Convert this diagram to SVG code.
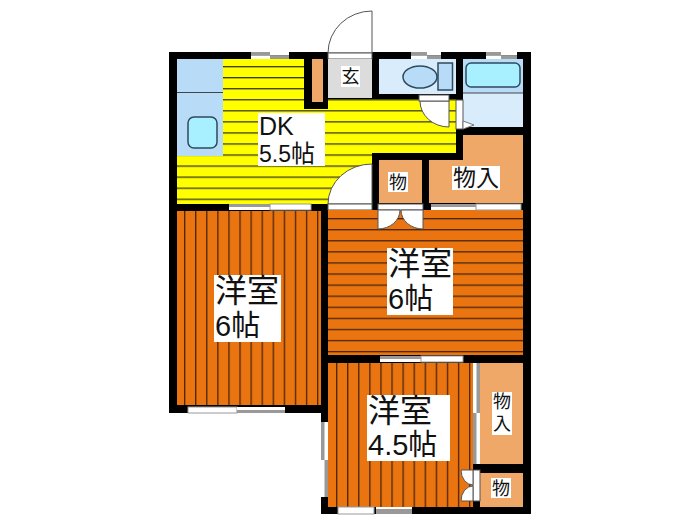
<svg xmlns="http://www.w3.org/2000/svg" width="700" height="525" viewBox="0 0 700 525">
<style>
.lbl{fill:#fff}
.t{font-family:"Noto Sans CJK JP","Liberation Sans",sans-serif;fill:#111}
.a{font-family:"Liberation Sans","Noto Sans CJK JP",sans-serif;fill:#111}
.wall{fill:#000}
.store{fill:#f0a868}
.g{fill:#999}
.w{fill:#fff}
.door{fill:#fff;stroke:#555;stroke-width:1}
.ln{stroke:#444;stroke-width:1;fill:none}
</style>
<defs>
<pattern id="py" patternUnits="userSpaceOnUse" x="0" y="66" width="20" height="11.05"><rect width="20" height="11.05" fill="#ffff00"/><rect width="20" height="1.3" fill="#3c3a10"/></pattern>
<pattern id="ph" patternUnits="userSpaceOnUse" x="0" y="218" width="20" height="11.08"><rect width="20" height="11.08" fill="#ea7510"/><rect width="20" height="1.3" fill="#4a2408"/></pattern>
<pattern id="pv1" patternUnits="userSpaceOnUse" x="184" y="0" width="11.08" height="20"><rect width="11.08" height="20" fill="#ea7510"/><rect width="1.3" height="20" fill="#4a2408"/></pattern>
<pattern id="pv2" patternUnits="userSpaceOnUse" x="336" y="0" width="11.08" height="20"><rect width="11.08" height="20" fill="#ea7510"/><rect width="1.3" height="20" fill="#4a2408"/></pattern>
</defs>
<rect width="700" height="525" fill="#fff"/>
<polygon id="walls" class="wall" points="169,52 531,52 531,514 321,514 321,413 169,413"/>

<g id="entry">
<path class="door" d="M328 53A44 42 0 0 1 372 11V53Z"/>
<rect x="328" y="53" width="44" height="6" class="door"/>
<rect x="328" y="59" width="44" height="39" fill="#dcdcdc"/>
<rect x="341" y="66" width="19" height="21" class="lbl"/>
<text class="t" x="350.500" y="83" font-size="18" text-anchor="middle">玄</text>
</g>

<g id="dk">
<polygon fill="url(#py)" points="177,59 304,59 304,109 328,109 328,99 456,99 456,153 372,153 372,204 177,204"/>
<rect x="177" y="59" width="46" height="97" fill="#b8dcf8"/>
<line class="ln" x1="177" y1="92.500" x2="223" y2="92.500"/>
<rect x="188" y="117" width="29" height="31" rx="6" fill="#a8f0ff" stroke="#2c4a5c" stroke-width="1.500"/>
<rect x="312" y="59" width="11" height="43" class="store"/>
<rect x="258" y="113" width="67" height="53" class="lbl"/>
<text class="a" x="259" y="135" font-size="25">DK</text>
<text class="a" x="259" y="162" font-size="23">5.5<tspan class="t" font-size="24">帖</tspan></text>
<path class="door" d="M328 204A44 40 0 0 1 372 164V204Z"/>
<rect x="328" y="204" width="44" height="6" class="door"/>
</g>

<g id="toilet">
<rect x="379" y="59" width="77" height="35" fill="#d8ecfc"/>
<ellipse cx="420" cy="77" rx="17" ry="11" fill="#b8dcf8" stroke="#2c4a5c" stroke-width="1.500"/>
<rect x="438" y="63" width="14.500" height="27" fill="#b8dcf8" stroke="#2c4a5c" stroke-width="1.500"/>
<path class="door" d="M420 101A29 26 0 0 0 449 127V101Z"/>
<rect x="419" y="95" width="30" height="6" class="door"/>
</g>

<g id="bath">
<rect x="463" y="59" width="60" height="68" fill="#d8ecfc"/>
<rect x="463" y="59" width="60" height="34" fill="#b8dcf8"/>
<line class="ln" x1="463" y1="93" x2="523" y2="93"/>
<rect x="466" y="63" width="54" height="24" rx="5" fill="#a8f0ff" stroke="#2c4a5c" stroke-width="1.500"/>
<rect x="456" y="100" width="7" height="29" class="door"/>
<path d="M463 121L474 125L463 129Z" fill="#fff" stroke="#777"/>
</g>

<g id="closet-1">
<polygon class="store" points="463,135 523,135 523,203 429,203 429,160 463,160"/>
<rect x="452" y="166" width="48" height="24" class="lbl"/>
<text class="t" x="476" y="186" font-size="23" text-anchor="middle">物入</text>
</g>

<g id="closet-2">
<rect x="379" y="160" width="43" height="43" class="store"/>
<rect x="388" y="172" width="20" height="20" class="lbl"/>
<text class="t" x="398" y="189" font-size="18" text-anchor="middle">物</text>
</g>

<g id="room-left">
<rect x="177" y="211" width="144" height="194" fill="url(#pv1)"/>
<rect x="214" y="275" width="67" height="67" class="lbl"/>
<text class="t" x="215" y="302" font-size="32">洋室</text>
<text class="a" x="215" y="336" font-size="29">6<tspan class="t" font-size="29">帖</tspan></text>
</g>

<g id="room-right">
<rect x="328" y="210" width="195" height="145" fill="url(#ph)"/>
<rect x="387" y="248" width="66" height="67" class="lbl"/>
<text class="t" x="388" y="275" font-size="32">洋室</text>
<text class="a" x="388" y="309" font-size="29">6<tspan class="t" font-size="29">帖</tspan></text>
<rect x="378" y="204" width="45" height="6" class="door"/>
<path class="door" d="M378 210V229A22 19 0 0 0 400 210Z"/>
<path class="door" d="M423 210V229A22 19 0 0 1 401 210Z"/>
</g>

<g id="room-small">
<rect x="328" y="363" width="145" height="144" fill="url(#pv2)"/>
<rect x="367" y="395" width="83" height="66" class="lbl"/>
<text class="t" x="368" y="422" font-size="32">洋室</text>
<text class="a" x="368" y="455" font-size="29">4.5<tspan class="t" font-size="29">帖</tspan></text>
</g>

<g id="closet-3">
<rect x="480" y="363" width="43" height="101" class="store"/>
<rect x="492" y="392" width="20" height="43" class="lbl"/>
<text class="t" x="502" y="408" font-size="18" text-anchor="middle">物</text>
<text class="t" x="502" y="430" font-size="18" text-anchor="middle">入</text>
</g>

<g id="closet-4">
<rect x="480" y="473" width="43" height="34" class="store"/>
<rect x="491" y="478" width="20" height="20" class="lbl"/>
<text class="t" x="501" y="495" font-size="18" text-anchor="middle">物</text>
<rect x="473" y="470" width="7" height="31" class="door"/>
<path class="door" d="M473 470H461A12 15 0 0 0 473 485Z"/>
<path class="door" d="M473 501H461A12 15 0 0 1 473 486Z"/>
</g>

<g id="windows">
<g><rect x="251" y="52" width="19" height="3.500" class="g"/><rect x="251" y="55.500" width="19" height="3.500" class="w"/><rect x="270" y="52" width="19" height="3.500" class="w"/><rect x="270" y="55.500" width="19" height="3.500" class="g"/></g>
<g><rect x="411" y="52" width="16" height="3.500" class="g"/><rect x="411" y="55.500" width="16" height="3.500" class="w"/><rect x="427" y="52" width="14" height="3.500" class="w"/><rect x="427" y="55.500" width="14" height="3.500" class="g"/></g>
<g><rect x="486" y="52" width="15" height="3.500" class="g"/><rect x="486" y="55.500" width="15" height="3.500" class="w"/><rect x="501" y="52" width="16" height="3.500" class="w"/><rect x="501" y="55.500" width="16" height="3.500" class="g"/></g>
<g><rect x="229" y="204" width="41" height="3" class="g"/><rect x="229" y="207" width="41" height="3" class="w"/><rect x="270" y="204" width="41" height="6" class="w" stroke="#999"/></g>
<g><rect x="431" y="204" width="45" height="3" class="g"/><rect x="431" y="207" width="45" height="3" class="w"/><rect x="476" y="204" width="45" height="6" class="w" stroke="#999"/></g>
<g><rect x="188" y="407" width="49" height="6" class="w" stroke="#999"/><rect x="237" y="410" width="48" height="3" class="g"/><rect x="237" y="407" width="48" height="3" class="w"/></g>
<g><rect x="380" y="356" width="41" height="3" class="g"/><rect x="380" y="359" width="41" height="3" class="w"/><rect x="421" y="356" width="42" height="6" class="w" stroke="#999"/></g>
<g><rect x="338" y="507" width="36" height="7" class="w" stroke="#999"/><rect x="376" y="507" width="36" height="2" class="w"/><rect x="376" y="509" width="36" height="5" class="g"/></g>
<g><rect x="473" y="363" width="7" height="101" class="w"/><rect x="476.500" y="363" width="3.500" height="50" class="g"/><rect x="473" y="413" width="3.500" height="51" class="g"/></g>
<g><rect x="321" y="422" width="7" height="75" class="w"/><rect x="321" y="422" width="3.500" height="38" class="g"/><rect x="324.500" y="460" width="3.500" height="37" class="g"/></g>
</g>
</svg>
